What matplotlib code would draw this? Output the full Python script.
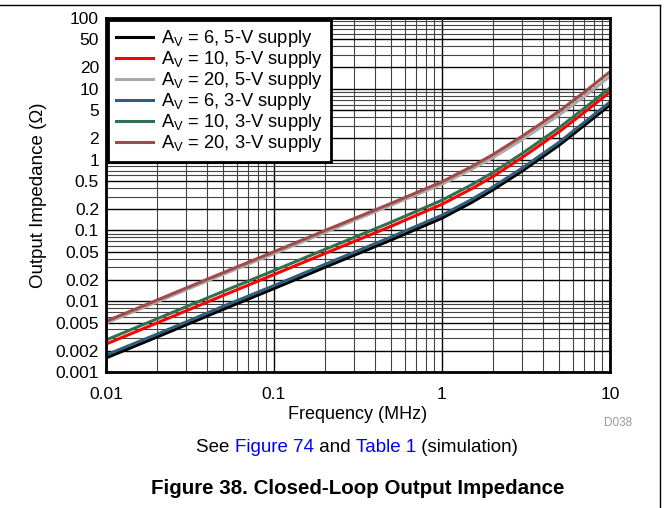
import numpy as np
import matplotlib
matplotlib.use('Agg')
import matplotlib.pyplot as plt
from matplotlib.lines import Line2D

plt.rcParams['font.family'] = ['Liberation Sans', 'DejaVu Sans']

# data (frequency in MHz, impedance in ohm)
freq = [0.01, 0.02, 0.05, 0.1, 0.2, 0.5, 1, 1.5, 2, 3, 5, 7, 10]
z_av6_5v = [0.00158, 0.0031, 0.0077, 0.0151, 0.030, 0.0735, 0.149, 0.248, 0.371, 0.688, 1.61, 3.02, 5.9]
z_av10_5v = [0.00248, 0.0049, 0.0121, 0.0238, 0.047, 0.115, 0.234, 0.387, 0.572, 1.07, 2.49, 4.61, 9.0]
z_av20_5v = [0.0049, 0.0097, 0.024, 0.047, 0.093, 0.228, 0.45, 0.73, 1.06, 1.91, 4.3, 7.75, 15.0]
z_av6_3v = [0.00174, 0.0034, 0.0085, 0.0166, 0.033, 0.081, 0.164, 0.273, 0.408, 0.757, 1.77, 3.33, 6.5]
z_av10_3v = [0.00283, 0.0056, 0.0138, 0.0271, 0.0536, 0.131, 0.267, 0.441, 0.652, 1.22, 2.84, 5.26, 10.3]
z_av20_3v = [0.0052, 0.0103, 0.0254, 0.050, 0.099, 0.242, 0.486, 0.796, 1.17, 2.14, 4.86, 8.91, 17.4]

labels = ['$\\mathregular{A_V}$ = 6, 5-V supply',
          '$\\mathregular{A_V}$ = 10, 5-V supply',
          '$\\mathregular{A_V}$ = 20, 5-V supply',
          '$\\mathregular{A_V}$ = 6, 3-V supply',
          '$\\mathregular{A_V}$ = 10, 3-V supply',
          '$\\mathregular{A_V}$ = 20, 3-V supply']
series = [z_av6_5v, z_av10_5v, z_av20_5v, z_av6_3v, z_av10_3v, z_av20_3v]
colors = ['#000000', '#FF0000', '#AAAAAA', '#2E5E7C', '#2E7050', '#A04A4A']

y_ticks = [100, 50, 20, 10, 5, 2, 1, 0.5, 0.2, 0.1, 0.05, 0.02, 0.01, 0.005, 0.002, 0.001]
y_ticklabels = ['100', '50', '20', '10', '5', '2', '1', '0.5', '0.2', '0.1',
                '0.05', '0.02', '0.01', '0.005', '0.002', '0.001']
x_ticks = [0.01, 0.1, 1, 10]
x_ticklabels = ['0.01', '0.1', '1', '10']

W, H = 665, 508
fig = plt.figure(figsize=(W / 100, H / 100), dpi=100)
ax = fig.add_axes([106 / W, 1 - 372 / H, (610 - 106) / W, (372 - 18) / H])

for z, c, lab in zip(series, colors, labels):
    ax.plot(freq, z, color=c, lw=2.2, label=lab)

ax.set_xscale('log')
ax.set_yscale('log')
ax.set_xlim(0.01, 10)
ax.set_ylim(0.001, 100)

# grid
ax.grid(which='major', color='black', lw=1.0)
ax.grid(which='minor', color='#444444', lw=0.8)
ax.set_axisbelow(True)

ax.set_yticks(y_ticks)
ax.set_yticklabels(y_ticklabels)
ax.set_xticks(x_ticks)
ax.set_xticklabels(x_ticklabels)
ax.tick_params(which='both', length=0, labelsize=12.5)
ax.tick_params(axis='x', pad=11)
ax.tick_params(axis='y', pad=5)
ax.yaxis.set_minor_formatter(plt.NullFormatter())
ax.xaxis.set_minor_formatter(plt.NullFormatter())
for sp in ax.spines.values():
    sp.set_linewidth(2)

ax.set_xlabel('Frequency (MHz)', fontsize=13, labelpad=3)
ax.set_ylabel('Output Impedance (\u03a9)', fontsize=13.5, labelpad=6)

leg = ax.legend(loc='upper left', fontsize=13.2, frameon=True, fancybox=False,
                borderaxespad=0.1, handlelength=2.0, labelspacing=0.0,
                borderpad=0.45, handletextpad=0.45)
leg.get_frame().set_edgecolor('black')
leg.get_frame().set_linewidth(2)
leg.get_frame().set_alpha(1)

# D038 tag
fig.text(618 / W, 1 - 423 / H, 'D038', color='#999999', fontsize=8.5,
         ha='center', va='center')

# caption with blue pieces
pieces = [('See ', 'black'), ('Figure 74', '#0000FF'), (' and ', 'black'),
          ('Table 1', '#0000FF'), (' (simulation)', 'black')]
renderer = fig.canvas.get_renderer()
objs = []
for txt, c in pieces:
    objs.append(fig.text(0, 1 - 448 / H, txt, color=c, fontsize=13.5,
                         ha='left', va='center'))
widths = [o.get_window_extent(renderer).width for o in objs]
total = sum(widths)
x0 = 357 - total / 2
for o, w in zip(objs, widths):
    o.set_x(x0 / W)
    x0 += w

fig.text(358 / W, 1 - 488 / H, 'Figure 38. Closed-Loop Output Impedance',
         fontsize=14.8, fontweight='bold', ha='center', va='center')

# outer frame lines (top and right)
fig.add_artist(Line2D([0, 660 / W], [1 - 5 / H, 1 - 5 / H], color='black', lw=1,
                      transform=fig.transFigure))
fig.add_artist(Line2D([660 / W, 660 / W], [0, 1 - 5 / H], color='black', lw=1,
                      transform=fig.transFigure))

fig.savefig('out.png', dpi=100, facecolor='white')
